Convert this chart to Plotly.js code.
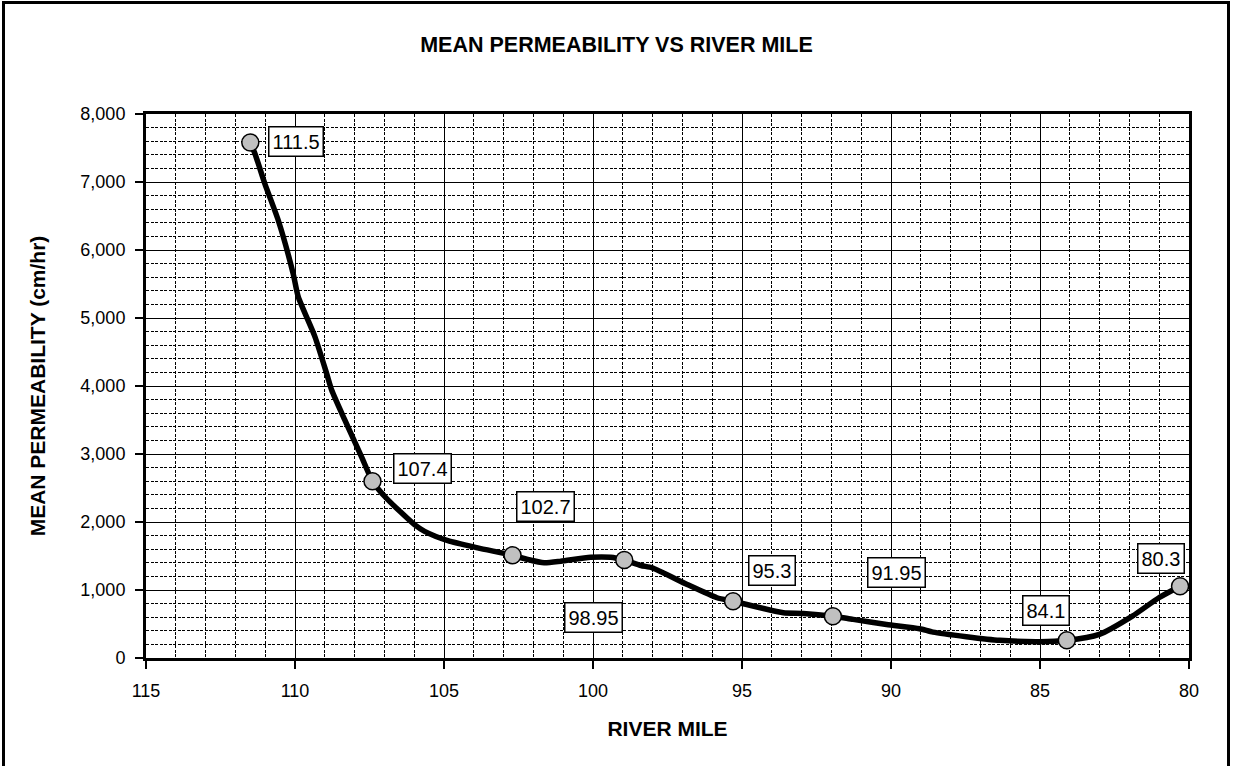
<!DOCTYPE html>
<html>
<head>
<meta charset="utf-8">
<script src="https://cdn.plot.ly/plotly-3.0.1.min.js"></script>
<style>
  html, body { margin: 0; padding: 0; background: #fff; }
  #wrap { position: relative; width: 1233px; height: 766px; overflow: hidden; }
  #chart { width: 1233px; height: 766px; }
  #frame { position: absolute; left: 2px; top: 1px; width: 1228px; height: 900px;
           box-sizing: border-box; border: 3px solid #000; pointer-events: none; }
</style>
</head>
<body>
<div id="wrap">
  <div id="chart"></div>
  <div id="frame"></div>
</div>
<script>
// Smoothed curve (river mile, mean permeability cm/hr)
const lineMiles = [111.5, 111.34, 111.01, 110.56, 110.06, 109.89, 109.33, 108.94, 108.77, 108.33, 107.77, 107.4,
  106.94, 105.99, 105.65, 104.87, 103.87, 102.7, 102.19, 101.64, 101.08, 100.08, 99.41, 98.95, 98.39, 98.01,
  96.84, 95.84, 95.3, 94.39, 93.61, 92.94, 91.95, 91.27, 90.15, 89.04, 88.59, 87.47, 86.36, 85.02, 84.1,
  83.01, 81.9, 81.01, 80.3];
const linePerm = [7580, 7413, 6973, 6434, 5650, 5310, 4723, 4186, 3941, 3501, 2963, 2600,
  2353, 1961, 1863, 1726, 1620, 1510, 1448, 1400, 1423, 1481, 1481, 1440, 1360, 1326,
  1081, 886, 835, 739, 666, 656, 615, 568, 494, 431, 381, 314, 260, 240, 260,
  348, 616, 886, 1055];

// Labelled sample points
const pointMiles = [111.5, 107.4, 102.7, 98.95, 95.3, 91.95, 84.1, 80.3];
const pointPerm  = [7580, 2600, 1510, 1440, 835, 615, 260, 1055];
const pointLabels = ['111.5', '107.4', '102.7', '98.95', '95.3', '91.95', '84.1', '80.3'];

// label box offsets (pixels) relative to each point
const labelShiftX = [46, 50, 33, -31, 39, 64, -21, -19];
const labelShiftY = [1, 13, 49, -57, 31, 44, 30, 28];

const FONT = 'Liberation Sans, Arial, sans-serif';

const traces = [
  {
    x: lineMiles, y: linePerm, type: 'scatter', mode: 'lines',
    line: { color: '#000', width: 5.5, shape: 'spline', smoothing: 0.6 },
    hoverinfo: 'skip', showlegend: false
  },
  {
    x: pointMiles, y: pointPerm, type: 'scatter', mode: 'markers',
    marker: { size: 17, color: '#c0c0c0', line: { color: '#000', width: 1.5 } },
    showlegend: false
  }
];

const annotations = pointLabels.map((t, i) => ({
  x: pointMiles[i], y: pointPerm[i], xref: 'x', yref: 'y',
  text: t, showarrow: false,
  xshift: labelShiftX[i], yshift: labelShiftY[i],
  font: { family: FONT, size: 20, color: '#000' },
  bgcolor: '#fff', bordercolor: '#000', borderwidth: 1.5, borderpad: 3
}));

const layout = {
  width: 1233, height: 766,
  paper_bgcolor: '#fff', plot_bgcolor: '#fff',
  margin: { l: 146, r: 44, t: 114, b: 108, pad: 0 },
  showlegend: false,
  title: {
    text: 'MEAN PERMEABILITY VS RIVER MILE',
    font: { family: FONT, size: 21.5, color: '#000', weight: 'bold' },
    xref: 'container', x: 0.5, xanchor: 'center',
    yref: 'container', y: 1 - 44 / 766, yanchor: 'middle'
  },
  xaxis: {
    range: [115, 80], dtick: 5, tick0: 80,
    showgrid: true, gridcolor: '#000', gridwidth: 1,
    minor: { dtick: 1, showgrid: true, gridcolor: '#000', gridwidth: 1, griddash: '3px,1.5px', ticks: '' },
    ticks: 'outside', ticklen: 8, tickwidth: 2, tickcolor: '#000',
    showline: true, linecolor: '#000', linewidth: 3, mirror: true,
    zeroline: false,
    tickfont: { family: FONT, size: 18, color: '#000' },
    ticklabelstandoff: 6,
    title: { text: 'RIVER MILE', font: { family: FONT, size: 21, color: '#000', weight: 'bold' }, standoff: 22 }
  },
  yaxis: {
    range: [0, 8000], dtick: 1000, tickformat: ',d',
    showgrid: true, gridcolor: '#000', gridwidth: 1,
    minor: { dtick: 200, showgrid: true, gridcolor: '#000', gridwidth: 1, griddash: '3px,1.5px', ticks: '' },
    ticks: 'outside', ticklen: 8, tickwidth: 2, tickcolor: '#000',
    showline: true, linecolor: '#000', linewidth: 3, mirror: true,
    zeroline: false,
    tickfont: { family: FONT, size: 18, color: '#000' },
    ticklabelstandoff: 6,
    title: { text: 'MEAN PERMEABILITY (cm/hr)', font: { family: FONT, size: 21, color: '#000', weight: 'bold' }, standoff: 30 }
  },
  annotations: annotations
};

Plotly.newPlot('chart', traces, layout, { displayModeBar: false, staticPlot: true });
</script>
</body>
</html>
